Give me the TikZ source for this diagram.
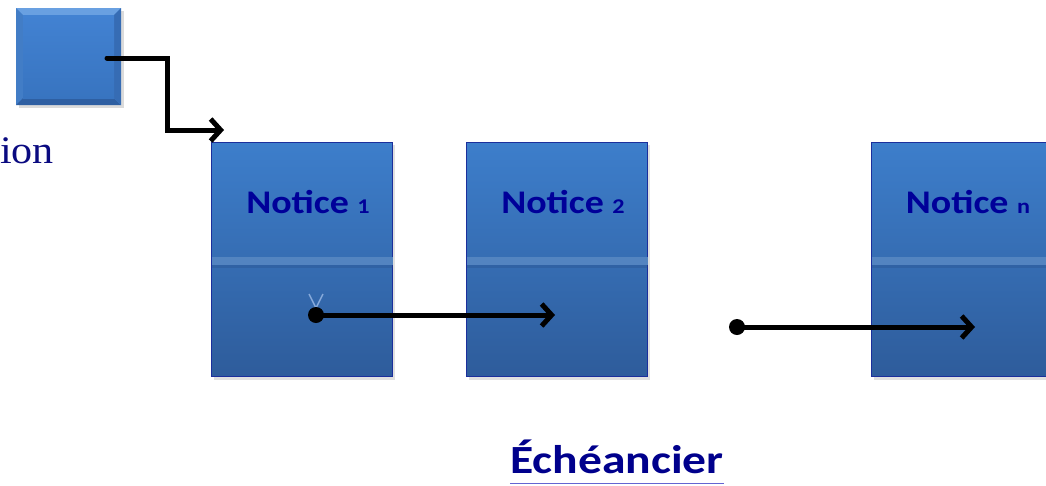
\documentclass[tikz,border=0pt]{standalone}
\usepackage{fontspec}
\newfontfamily\carlitofont{Carlito}
\newfontfamily\tnrfont{Liberation Serif}
\usetikzlibrary{arrows.meta}
\definecolor{boxtop}{HTML}{3D7ECB}
\definecolor{boxbot}{HTML}{2E5C9B}
\definecolor{boxedge}{HTML}{1B2F9C}
\definecolor{band}{HTML}{5384C0}
\definecolor{navy}{HTML}{000099}
\definecolor{vmark}{HTML}{86A9DA}
\definecolor{sqbase}{RGB}{74,138,214}
\definecolor{sqtop}{RGB}{105,160,225}
\definecolor{sqleft}{RGB}{66,125,198}
\definecolor{sqbot}{RGB}{46,95,162}
\definecolor{sqright}{RGB}{54,108,180}
\definecolor{sqin1}{RGB}{66,130,210}
\definecolor{sqin2}{RGB}{56,116,192}
\definecolor{lbltext}{RGB}{10,10,128}
\definecolor{titletext}{RGB}{0,0,140}
\definecolor{uline}{RGB}{100,100,210}
\tikzset{
  x=1pt, y=-1pt,
  notice/.style={rectangle, draw=boxedge, line width=1.2pt, minimum width=181pt, minimum height=234pt,
    anchor=north west, inner sep=0pt, top color=boxtop, bottom color=boxbot},
  ntext/.style={font=\carlitofont\bfseries\fontsize{33}{38}\selectfont, text=navy, inner sep=0pt, anchor=base, xscale=1.15},
  conn/.style={line width=5pt, line cap=round, line join=miter, -{Straight Barb[length=10pt,width=22pt,line width=5pt]}},
  dotc/.style={circle, fill=black, minimum size=16pt, inner sep=0pt},
}
\begin{document}
\begin{tikzpicture}
\useasboundingbox (0,0) rectangle (1046,485);
% shadows
\fill[black!12] (214,145) rectangle (395,380);
\fill[black!12] (469,145) rectangle (650,380);
\fill[black!12] (874,145) rectangle (1055,380);
\fill[black!14] (19,11) rectangle (124,108);
% source square (bevelled)
\node[rectangle, minimum width=105pt, minimum height=97pt, anchor=north west, inner sep=0pt,
  fill=sqbase] (src) at (16,8) {};
\fill[sqtop] (16,8) -- (121,8) -- (114,15) -- (23,15) -- cycle;
\fill[sqleft] (16,8) -- (23,15) -- (23,98) -- (16,105) -- cycle;
\fill[sqbot] (16,105) -- (23,98) -- (114,98) -- (121,105) -- cycle;
\fill[sqright] (121,8) -- (114,15) -- (114,98) -- (121,105) -- cycle;
\shade[top color=sqin1, bottom color=sqin2] (23,15) rectangle (114,98);
\node[font=\tnrfont\fontsize{39}{44}\selectfont, text=lbltext, anchor=base west, inner sep=0pt, xscale=1.08] (lbl) at (0,163) {ion};
% notice boxes
\node[notice] (n1) at (211,142) {};
\node[notice] (n2) at (466,142) {};
\node[notice] (nn) at (871,142) {};
\foreach \b in {n1,n2,nn}{
  \fill[band] ([xshift=0.6pt,yshift=-115pt]\b.north west) rectangle ([xshift=-0.6pt,yshift=-123pt]\b.north east);
  \fill[boxbot!85!black, opacity=0.3] ([xshift=0.6pt,yshift=-123pt]\b.north west) rectangle ([xshift=-0.6pt,yshift=-126pt]\b.north east);
}
\node[ntext] (t1) at (308,213) {Notice {\fontsize{21}{24}\selectfont 1}};
\node[ntext] (t2) at (563,213) {Notice {\fontsize{21}{24}\selectfont 2}};
\node[ntext] (tn) at (968,213) {Notice {\fontsize{21}{24}\selectfont n}};
% faint mark
\draw[vmark, line width=1.5pt] (309,294) -- (316,308) -- (323,294);
% connectors
\coordinate (s0) at (107,58);
\coordinate (k0) at (167,130);
\coordinate (e0) at (224,130);
\draw[conn] (s0) -| (k0) -- (e0);
\node[dotc] (d1) at (316,315) {};
\coordinate (e1) at (555,315);
\draw[conn] (d1.center) -- (e1);
\node[dotc] (d2) at (737,327) {};
\coordinate (e2) at (975,327);
\draw[conn] (d2.center) -- (e2);
% title
\node[font=\carlitofont\bfseries\fontsize{40}{46}\selectfont, text=titletext, anchor=base, inner sep=0pt, xscale=1.19] (title) at (617,473) {Échéancier};
\draw[uline, line width=1.2pt] ([yshift=-10.5pt]title.base west) -- ([yshift=-10.5pt]title.base east);
\end{tikzpicture}
\end{document}
